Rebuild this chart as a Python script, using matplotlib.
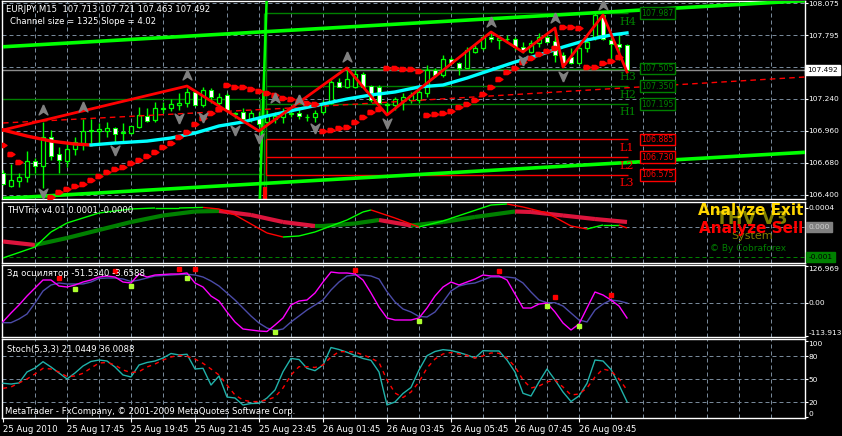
import numpy as np
import matplotlib.pyplot as plt
from matplotlib.path import Path

plt.rcParams['font.family'] = ['DejaVu Sans']
FS = 5.7
YFS = 5.4

# ---- EURJPY M15 candles (bar 0 = 25 Aug 15:45) ----
opens = [106.592, 106.478, 106.522, 106.557, 106.697, 106.653, 106.906, 106.758, 106.697, 106.802,
         106.854, 106.959, 106.959, 106.959, 106.985, 106.941, 106.941, 106.994, 107.090, 107.055,
         107.151, 107.160, 107.186, 107.204, 107.300, 107.186, 107.317, 107.204, 107.274, 107.107,
         107.125, 107.064, 107.081, 107.038, 107.064, 107.081, 107.107, 107.116, 107.081, 107.081,
         107.125, 107.204, 107.387, 107.344, 107.344, 107.457, 107.352, 107.344, 107.186, 107.186,
         107.230, 107.230, 107.230, 107.291, 107.492, 107.448, 107.588, 107.553, 107.510, 107.649,
         107.684, 107.781, 107.754, 107.763, 107.763, 107.693, 107.649, 107.728, 107.781, 107.746,
         107.623, 107.606, 107.553, 107.684, 107.781, 107.973, 107.754, 107.719, 107.713]
highs = [106.618, 106.670, 106.592, 106.784, 106.723, 107.038, 106.968, 106.819, 106.854, 106.906,
         107.064, 107.064, 107.029, 107.038, 106.994, 107.029, 107.003, 107.169, 107.160, 107.212,
         107.212, 107.239, 107.291, 107.335, 107.317, 107.344, 107.335, 107.291, 107.291, 107.125,
         107.160, 107.143, 107.125, 107.143, 107.125, 107.160, 107.160, 107.160, 107.107, 107.143,
         107.230, 107.405, 107.422, 107.510, 107.492, 107.475, 107.361, 107.361, 107.212, 107.256,
         107.291, 107.300, 107.335, 107.536, 107.510, 107.623, 107.606, 107.562, 107.693, 107.711,
         107.798, 107.824, 107.798, 107.798, 107.781, 107.737, 107.754, 107.816, 107.798, 107.842,
         107.649, 107.684, 107.711, 107.781, 107.990, 107.990, 107.798, 107.816, 107.721]
lows = [106.487, 106.469, 106.469, 106.513, 106.592, 106.461, 106.705, 106.592, 106.644, 106.749,
        106.793, 106.854, 106.854, 106.906, 106.863, 106.871, 106.933, 106.985, 107.038, 107.038,
        107.116, 107.134, 107.143, 107.169, 107.177, 107.169, 107.204, 107.186, 107.125, 107.073,
        107.038, 107.038, 106.994, 107.020, 107.029, 107.029, 107.081, 107.064, 107.046, 107.038,
        107.107, 107.195, 107.344, 107.335, 107.335, 107.335, 107.212, 107.186, 107.116, 107.143,
        107.143, 107.204, 107.204, 107.256, 107.431, 107.431, 107.545, 107.448, 107.510, 107.641,
        107.667, 107.737, 107.676, 107.728, 107.667, 107.641, 107.641, 107.693, 107.728, 107.562,
        107.518, 107.545, 107.545, 107.649, 107.754, 107.754, 107.553, 107.580, 107.463]
closes = [106.496, 106.531, 106.557, 106.697, 106.653, 106.906, 106.740, 106.705, 106.802, 106.863,
          106.959, 106.968, 106.976, 106.985, 106.933, 106.950, 107.003, 107.099, 107.046, 107.160,
          107.160, 107.195, 107.204, 107.300, 107.186, 107.317, 107.256, 107.256, 107.143, 107.116,
          107.064, 107.116, 107.020, 107.099, 107.090, 107.125, 107.116, 107.090, 107.081, 107.116,
          107.204, 107.387, 107.344, 107.413, 107.457, 107.344, 107.230, 107.204, 107.195, 107.239,
          107.256, 107.274, 107.300, 107.492, 107.448, 107.588, 107.553, 107.510, 107.667, 107.684,
          107.781, 107.763, 107.772, 107.763, 107.693, 107.667, 107.728, 107.781, 107.737, 107.623,
          107.553, 107.553, 107.684, 107.737, 107.973, 107.763, 107.719, 107.693, 107.492]

# parabolic-SAR style dots (nan = not drawn)
sar = [106.837, 106.758, 106.688, np.nan, np.nan, np.nan, 106.382, 106.426, 106.452, 106.478,
       106.496, 106.531, 106.566, 106.601, 106.627, 106.644, 106.679, 106.705, 106.740, 106.775,
       106.819, 106.854, 106.906, 106.950, 107.020, 107.073, 107.116, 107.151, 107.361, 107.344,
       107.344, 107.326, 107.309, 107.291, 107.274, 107.247, 107.239, 107.221, 107.204, 107.195,
       106.959, 106.968, 106.985, 106.994, 107.038, 107.081, 107.125, 107.151, 107.510, 107.510,
       107.501, 107.501, 107.483, 107.099, 107.107, 107.116, 107.134, 107.169, 107.195, 107.230,
       107.282, 107.344, 107.413, 107.475, 107.510, 107.562, 107.597, 107.632, 107.658, 107.684,
       107.868, 107.868, 107.859, 107.518, 107.518, 107.553, 107.571, 107.606, np.nan]

# moving average (red while falling, cyan after)
ma_bars = [0, 3, 6, 9, 11, 14, 18, 21, 24, 27, 30, 33, 37, 40, 43, 46, 49, 52, 55, 58, 61, 64, 67, 70, 73, 76, 78]
ma_vals = [106.968, 106.915, 106.871, 106.845, 106.837, 106.854, 106.871, 106.898, 106.941, 107.003,
           107.038, 107.090, 107.151, 107.195, 107.239, 107.274, 107.300, 107.344, 107.361, 107.422,
           107.492, 107.562, 107.623, 107.693, 107.754, 107.798, 107.816]
ma_turn = 11

# zigzag
zz_bars = [0, 23, 32, 43, 48, 61, 65, 69, 70, 75, 78]
zz_vals = [106.968, 107.352, 106.959, 107.510, 107.099, 107.824, 107.649, 107.859, 107.518, 107.973, 107.475]

# dashed red regression-like line
dl_bars = [0, 37, 100.25]
dl_vals = [107.029, 107.164, 107.431]

# fractals
up_fr_bars = [5, 10, 23, 34, 37, 43, 61, 69, 75]
up_fr_vals = [107.143, 107.169, 107.448, 107.247, 107.230, 107.606, 107.912, 107.947, 108.060]
dn_fr_bars = [5, 14, 22, 25, 29, 32, 39, 48, 65, 70]
dn_fr_vals = [106.417, 106.793, 107.073, 107.081, 106.968, 106.898, 106.985, 107.029, 107.580, 107.440]

# channel
chan_lower_start = 106.370
chan_slope = 0.00402
chan_size = 1.325

# pivots
pivot_names = ['H4', 'H3', 'H2', 'H1', 'L1', 'L2', 'L3']
pivot_vals = [107.987, 107.505, 107.350, 107.195, 106.885, 106.730, 106.575]
prev_levels = [107.238, 106.583]
bid = 107.492

# THVTrix
trix_bars = [0, 4, 8, 12, 16, 20, 24, 27, 31, 35, 39, 40, 44, 47, 51, 55, 59, 64, 66, 70, 74, 78]
trix_vals = [-0.000305, -0.000379, -0.000232, -0.000063, 0.000105, 0.000242, 0.000326, 0.000337,
             0.000253, 0.000105, 0.000021, 0.000021, 0.000074, 0.000147, 0.000032, 0.000105,
             0.000211, 0.000326, 0.000316, 0.000242, 0.000168, 0.000105]
sig_bars = [0, 4, 6, 8, 12, 16, 19, 22, 25, 27, 29, 31, 33, 35, 37, 39, 41, 43, 45, 46, 49, 52,
            55, 58, 61, 63, 65, 68, 71, 73, 75, 77, 78]
sig_vals = [-0.000653, -0.000421, -0.000105, 0.000084, 0.000295, 0.000379, 0.000400, 0.000400,
            0.000411, 0.000379, 0.000253, 0.000063, -0.000126, -0.000211, -0.000189, -0.000105,
            0.000021, 0.000147, 0.000316, 0.000358, 0.000189, 0.0, 0.000126, 0.000295, 0.000463,
            0.000484, 0.000421, 0.000295, 0.000021, -0.000042, 0.000042, 0.000042, -0.000021]
trix_level = -0.00063

# 3d oscillator
osc_main = [-64.7, -34.8, -7.2, 23.7, 51.3, 78.8, 78.8, 58.1, 54.7, 61.6,
            71.9, 78.8, 89.1, 92.6, 89.1, 71.9, 68.5, 99.4, 89.1, 96.0,
            97.7, 99.4, 99.4, 102.9, 68.5, 54.7, 23.7, 6.5, -31.3, -65.7,
            -89.8, -93.3, -96.7, -98.4, -76.0, -51.9, -7.2, 6.5, 10.0, 34.1,
            71.9, 106.3, 102.9, 102.9, 99.4, 78.8, 34.1, -14.1, -51.9, -58.8,
            -58.8, -58.8, -51.9, -17.6, 23.7, 54.7, 71.9, 61.6, 71.9, 82.2,
            96.0, 92.6, 92.6, 78.8, 30.6, -17.6, -17.6, -3.8, -0.4, -31.3,
            -69.2, -93.3, -72.6, -17.6, 37.5, 27.2, 10.0, -10.7, -51.9]
osc_sig = [-68.1, -68.1, -55.4, -38.2, -0.4, 41.0, 61.6, 68.5, 65.1, 65.1,
           65.1, 71.9, 84.0, 85.7, 85.7, 82.2, 73.7, 78.8, 85.7, 92.6,
           94.3, 96.0, 97.7, 98.4, 96.0, 89.1, 75.4, 58.1, 34.1, 10.0,
           -17.6, -45.1, -69.2, -86.4, -95.0, -89.8, -65.7, -45.1, -24.4, -7.2,
           10.0, 44.4, 71.9, 92.6, 96.0, 96.0, 92.6, 82.2, 38.6, 3.1,
           -21.0, -31.3, -46.8, -48.5, -31.3, 3.1, 41.0, 58.1, 65.1, 68.5,
           78.8, 89.1, 89.1, 89.1, 85.7, 68.5, 37.5, 10.0, 0.7, 0.7,
           -10.7, -34.8, -58.8, -65.7, -24.4, -3.8, 10.0, 6.5, -0.4]
osc_red_bars = [7, 14, 22, 24, 44, 62, 69, 76]
osc_red_vals = [85.7, 109.8, 116.6, 116.6, 113.2, 109.8, 20.3, 27.2]
osc_yel_bars = [9, 16, 23, 34, 52, 68, 72]
osc_yel_vals = [47.8, 58.1, 85.7, -100.1, -62.3, -10.7, -79.5]
osc_max, osc_min = 126.969, -113.913

# Stochastic
stoch_k = [44.5, 43.5, 44.9, 59.2, 64.4, 72.6, 65.7, 57.9, 50.1, 57.9,
           67.0, 72.9, 74.8, 73.5, 65.7, 55.3, 52.7, 68.3, 71.6, 73.5,
           77.4, 83.3, 81.4, 82.3, 63.1, 64.0, 42.2, 54.0, 26.6, 25.3,
           16.2, 18.1, 18.4, 25.3, 35.7, 59.6, 76.8, 75.5, 64.0, 60.9,
           68.3, 91.1, 88.5, 84.9, 80.7, 76.8, 74.4, 59.2, 16.2, 20.1,
           31.2, 39.0, 61.8, 80.4, 85.9, 88.3, 87.2, 84.6, 81.4, 77.4,
           87.0, 86.6, 86.6, 74.8, 59.2, 31.4, 27.9, 46.2, 63.1, 48.8,
           33.1, 20.7, 27.9, 44.5, 74.8, 73.5, 62.5, 42.2, 20.5]
stoch_d = [37.9, 39.6, 44.9, 50.1, 56.6, 64.0, 63.1, 59.2, 53.1, 54.0,
           57.5, 64.4, 70.9, 71.6, 68.3, 61.8, 58.5, 59.6, 65.7, 69.6,
           74.8, 78.7, 81.0, 79.7, 76.1, 70.5, 63.1, 55.3, 42.2, 29.2,
           22.7, 20.5, 20.7, 22.7, 26.6, 38.3, 55.3, 66.1, 66.1, 65.1,
           68.3, 78.7, 85.7, 85.7, 85.3, 81.4, 77.4, 71.6, 48.8, 31.8,
           25.9, 33.1, 46.2, 64.4, 76.1, 82.7, 84.6, 82.7, 80.7, 77.4,
           80.1, 84.0, 83.6, 77.4, 66.1, 48.8, 38.3, 40.9, 46.2, 48.8,
           39.6, 29.2, 30.5, 38.3, 52.7, 63.1, 60.5, 50.1, 35.7]

time_ticks = [0, 8, 16, 24, 32, 40, 48, 56, 64, 72]
time_labels = ['25 Aug 2010', '25 Aug 17:45', '25 Aug 19:45', '25 Aug 21:45', '25 Aug 23:45',
               '26 Aug 01:45', '26 Aug 03:45', '26 Aug 05:45', '26 Aug 07:45', '26 Aug 09:45']

# ---------------------------------------------------------------
W, H = 842, 436
fig = plt.figure(figsize=(W / 100, H / 100), dpi=100, facecolor='black')
GRID = '#778899'
XMAX = 100.25


def panel(top, bottom):
    ax = fig.add_axes([2 / W, 1 - bottom / H, 803 / W, (bottom - top) / H])
    ax.set_facecolor('black')
    for s in ax.spines.values():
        s.set_color('white')
        s.set_linewidth(1)
    ax.set_xlim(-0.125, XMAX)
    ax.tick_params(axis='x', bottom=False, labelbottom=False)
    ax.yaxis.tick_right()
    ax.tick_params(axis='y', colors='white', labelsize=YFS, length=2.2, width=0.8, pad=0.3)
    for b in range(4, 100, 4):
        ax.axvline(b, color=GRID, lw=0.72, ls=(0, (4, 3)), zorder=0)
    return ax


def hgrid(ax, vals, color=GRID):
    for v in vals:
        ax.axhline(v, color=color, lw=0.72, ls=(0, (4, 3)), zorder=0)


def ftext(x, y, s, **kw):
    fig.text(x / W, 1 - y / H, s, va='center', **kw)


bars = np.arange(len(closes))
o, h, l, c = map(np.array, (opens, highs, lows, closes))

# ---- main chart ----
ax1 = panel(1, 199)
ax1.set_ylim(106.365, 108.095)
main_ticks = [106.400, 106.680, 106.960, 107.240, 107.795, 108.075]
ax1.set_yticks(main_ticks)
ax1.set_yticklabels([f'{v:.3f}' for v in main_ticks])
hgrid(ax1, main_ticks + [107.515])

ax1.axhline(bid, color='#8c8c8c', lw=1, zorder=1)

# channel
cx = np.array([0, XMAX])
low_line = chan_lower_start + chan_slope * cx
ax1.plot(cx, low_line, color='#00FF00', lw=2.6, zorder=3, solid_capstyle='butt')
ax1.plot(cx, low_line + chan_size, color='#00FF00', lw=2.6, zorder=3, solid_capstyle='butt')

# previous day levels and day switch
ax1.hlines(prev_levels, -0.125, [32.1, 32.6], color='#008000', lw=1, zorder=2)
ax1.vlines([32.1], 106.365, prev_levels[0], color='#008000', lw=1, zorder=2)
ax1.vlines([32.6, 32.9], 106.365, pivot_vals[0], color='#008000', lw=1, zorder=2)
ax1.vlines([32.9], pivot_vals[6], pivot_vals[4], color='#FF0000', lw=1, zorder=2)
ax1.vlines([32.75], 106.365, 106.47, color='#FF0000', lw=3, zorder=2)
ax1.plot([32.95, 32.1], [108.095, 106.365], color='#00FF00', lw=1.8, zorder=3)

for name, v in zip(pivot_names, pivot_vals):
    col = '#008000' if name[0] == 'H' else '#FF0000'
    ax1.hlines(v, 32.9, 78.1, color=col, lw=1, zorder=2)
    ax1.annotate(name, (77.1, v), xytext=(0, -2.5), textcoords='offset points', va='top',
                 ha='left', color=col, fontsize=8, family=['DejaVu Serif'], zorder=6)
    ax1.text(79.75, v, f'{v:.3f}', va='center', ha='left', color=col, fontsize=FS, zorder=8,
             bbox=dict(boxstyle='square,pad=0.18', fc='black', ec=col, lw=1))

# candles
ax1.vlines(bars, l, h, color='#00FF00', lw=1, zorder=4)
bull = c >= o
ax1.bar(bars[bull], (c - o)[bull], bottom=o[bull], width=0.6, facecolor='black',
        edgecolor='#00FF00', lw=0.9, zorder=5)
ax1.bar(bars[~bull], (c - o)[~bull], bottom=o[~bull], width=0.6, facecolor='white',
        edgecolor='#00FF00', lw=0.7, zorder=5)

# lines
ax1.plot(dl_bars, dl_vals, color='#FF0000', lw=1, ls=(0, (4, 3)), zorder=5)
k = ma_bars.index(ma_turn)
ax1.plot(ma_bars[:k + 1], ma_vals[:k + 1], color='#FF0000', lw=2.4, zorder=6)
ax1.plot(ma_bars[k:], ma_vals[k:], color='#00FFFF', lw=2.4, zorder=6)
ax1.plot(zz_bars, zz_vals, color='#FF0000', lw=2, zorder=7)

sar_marker = Path([(-1, 0.6), (0.1, 0.6), (1, 0), (0.1, -0.6), (-1, -0.6), (-1, 0.6)])
ax1.plot(bars, sar, ls='none', marker=sar_marker, ms=5, color='#FF0000', zorder=8)

up_arrow = Path([(0, 1), (0.8, -0.8), (0, -0.25), (-0.8, -0.8), (0, 1)])
dn_arrow = Path([(0, -1), (0.8, 0.8), (0, 0.25), (-0.8, 0.8), (0, -1)])
ax1.plot(up_fr_bars, up_fr_vals, ls='none', marker=up_arrow, ms=8, color='#808080', zorder=8)
ax1.plot(dn_fr_bars, dn_fr_vals, ls='none', marker=dn_arrow, ms=8, color='#808080', zorder=8)

ax1.text(1.003, bid, f'{bid:.3f}', transform=ax1.get_yaxis_transform(), va='center', ha='left',
         color='black', fontsize=YFS, zorder=10, clip_on=False,
         bbox=dict(boxstyle='square,pad=0.3', fc='white', ec='white'))

ftext(6, 10, 'EURJPY,M15  107.713 107.721 107.463 107.492', color='white', fontsize=6.1)
ftext(10, 21, 'Channel size = 1325 Slope = 4.02', color='white', fontsize=6.1)

# ---- THVTrix ----
ax2 = panel(202, 263)
ax2.set_ylim(-0.000758, 0.000526)
ax2.set_yticks([trix_level, 0.0, 0.0004])
ax2.set_yticklabels(['', '', '0.0004'])
hgrid(ax2, [0.0])
hgrid(ax2, [trix_level], color='#008000')
for xs, ys, lw, up_col, dn_col in ((trix_bars, trix_vals, 3, '#008000', '#DC143C'),
                                    (sig_bars, sig_vals, 1, '#00FF00', '#FF0000')):
    for i in range(len(xs) - 1):
        col = up_col if ys[i + 1] >= ys[i] else dn_col
        ax2.plot(xs[i:i + 2], ys[i:i + 2], color=col, lw=lw, zorder=3, solid_capstyle='butt')
ytr = ax2.get_yaxis_transform()
ax2.text(1.004, 0.0, '0.000', transform=ytr, va='center', ha='left', color='#D0D0D0',
         fontsize=YFS, clip_on=False, bbox=dict(boxstyle='square,pad=0.3', fc='#808080', ec='#808080'))
ax2.text(1.004, trix_level, '-0.001', transform=ytr, va='center', ha='left', color='black',
         fontsize=YFS, clip_on=False, bbox=dict(boxstyle='square,pad=0.3', fc='#008000', ec='#008000'))
ftext(7, 210, 'THVTrix v4.01 0.0001 -0.0000', color='white', fontsize=6.1)
ftext(752, 219, 'THV V3', color='#808000', fontsize=12.5, weight='bold', ha='center', zorder=1)
ftext(803, 210, 'Analyze Exit', color='#FFD700', fontsize=11, weight='bold', ha='right', zorder=2)
ftext(803, 228, 'Analyze Sell', color='#FF0000', fontsize=11, weight='bold', ha='right', zorder=2)
ftext(752, 236, 'System', color='#808000', fontsize=8, ha='center', zorder=1)
ftext(748, 248, '\u00a9 By Cobraforex', color='#008000', fontsize=6.5, ha='center', zorder=1)

# ---- 3d oscillator ----
ax3 = panel(265, 337)
ax3.set_ylim(-117.34, 130.41)
ax3.set_yticks([osc_min, 0, osc_max])
ax3.set_yticklabels([f'{osc_min:.3f}', '0.00', f'{osc_max:.3f}'])
tl = ax3.get_yticklabels()
tl[0].set_va('bottom')
tl[2].set_va('top')
hgrid(ax3, [0])
ax3.plot(bars, osc_sig, color='#4B4BA8', lw=1, zorder=3)
ax3.plot(bars, osc_main, color='#FF00FF', lw=1, zorder=4)
ax3.plot(osc_red_bars, osc_red_vals, ls='none', marker='s', ms=3, color='#FF0000', zorder=5)
ax3.plot(osc_yel_bars, osc_yel_vals, ls='none', marker='s', ms=3, color='#ADFF2F', zorder=5)
ftext(7, 274, 'Зд осцилятор -51.5340 -3.6588', color='white', fontsize=6.1)

# ---- Stochastic ----
ax4 = panel(339, 418)
ax4.set_ylim(-0.78, 102.2)
ax4.set_yticks([0, 20, 50, 80, 100])
ax4.set_yticklabels(['0', '20', '50', '80', '100'])
tl = ax4.get_yticklabels()
tl[0].set_va('bottom')
tl[4].set_va('top')
hgrid(ax4, [20, 50, 80])
ax4.plot(bars, stoch_k, color='#20B2AA', lw=1, zorder=3)
ax4.plot(bars, stoch_d, color='#FF0000', lw=1, ls=(0, (3, 3)), zorder=4)
ax4.set_xticks(time_ticks)
ax4.set_xticklabels(time_labels, ha='left')
ax4.tick_params(axis='x', bottom=True, labelbottom=True, colors='white', labelsize=6.1,
                length=3, width=0.8, pad=2)
ftext(7, 349, 'Stoch(5,3,3) 21.0449 36.0088', color='white', fontsize=6.1)
ftext(5, 411, 'MetaTrader - FxCompany, \u00a9 2001-2009 MetaQuotes Software Corp.', color='white',
      fontsize=6.1)

fig.savefig('out.png', dpi=100, facecolor='black')
